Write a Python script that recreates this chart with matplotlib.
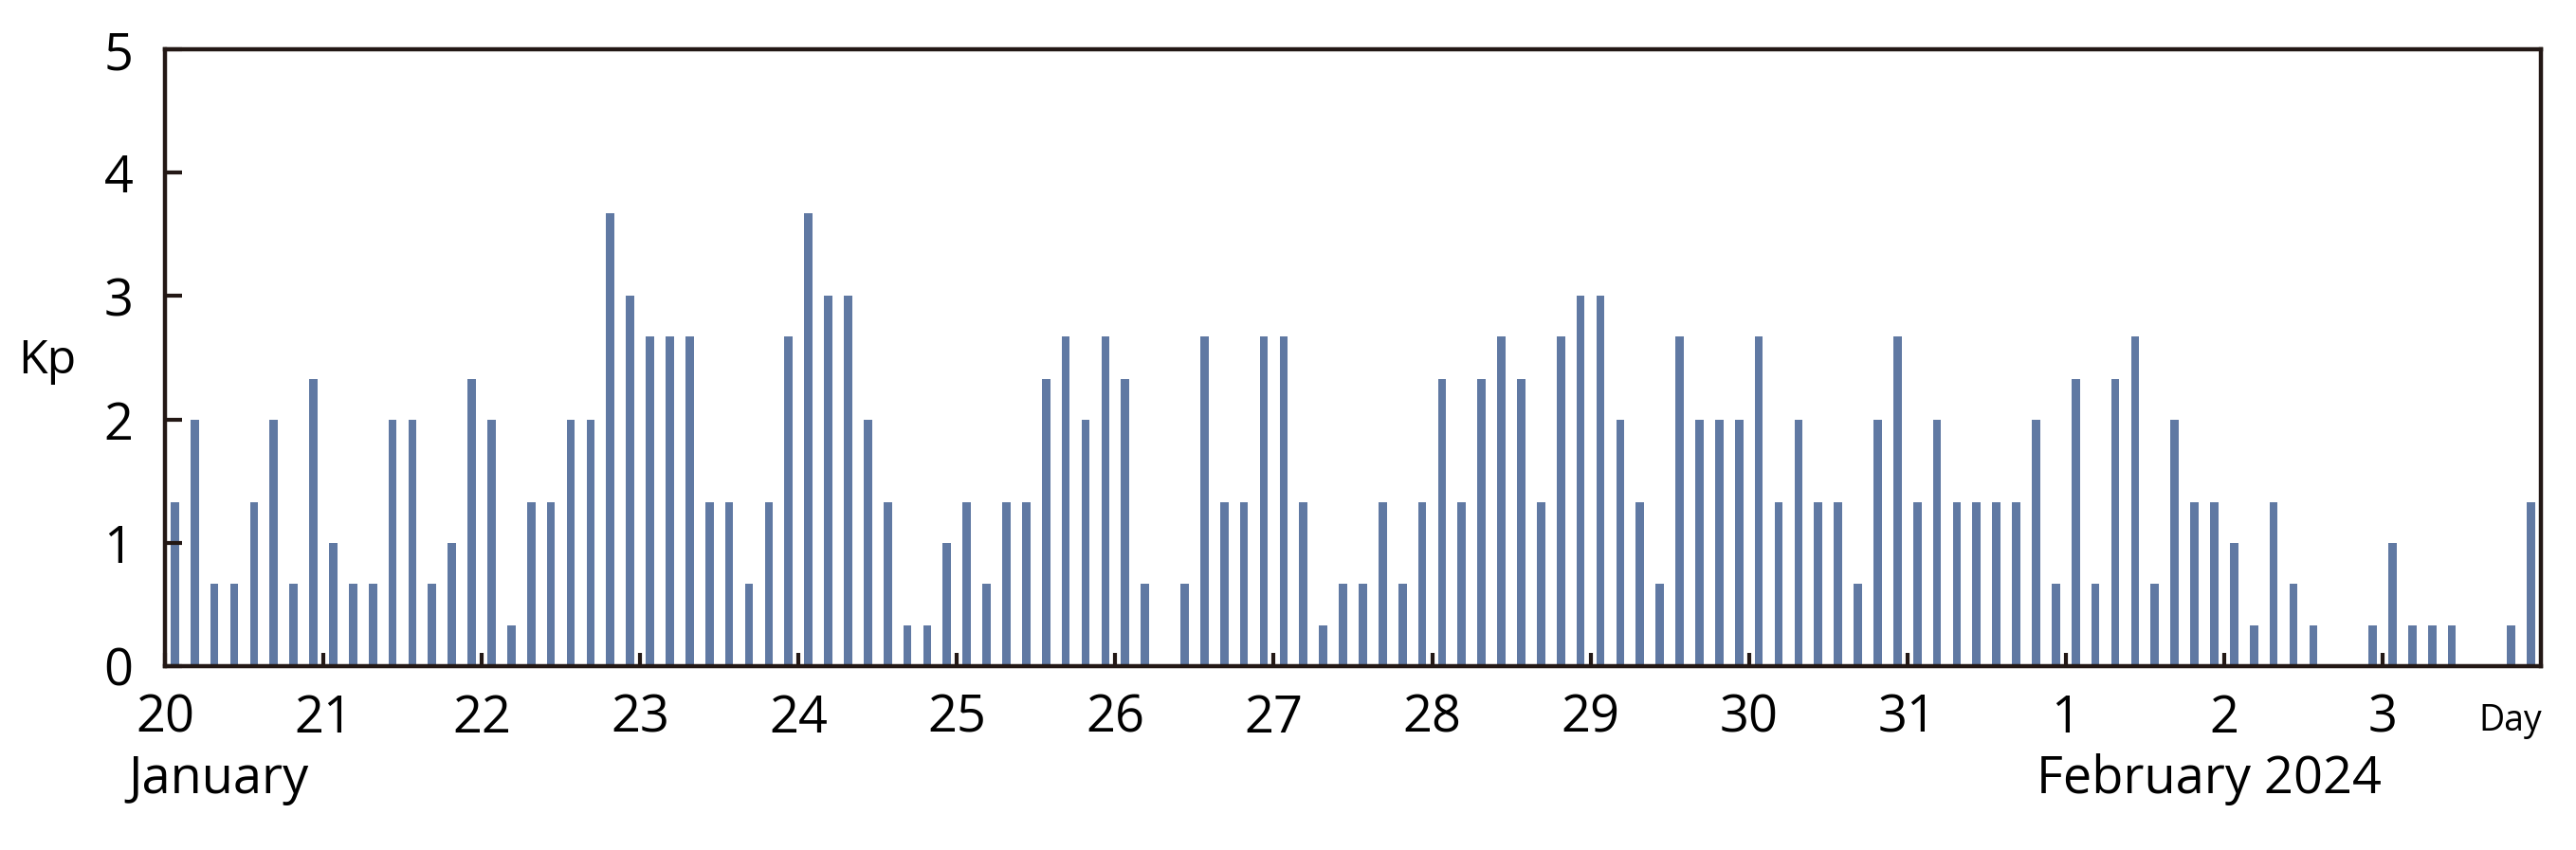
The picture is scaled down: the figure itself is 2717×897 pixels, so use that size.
import numpy as np
import matplotlib
matplotlib.use("Agg")
import matplotlib.pyplot as plt

# 3-hourly Kp values, 8 per day, 20 Jan - 3 Feb 2024
days = ["20", "21", "22", "23", "24", "25", "26", "27", "28", "29",
        "30", "31", "1", "2", "3"]
kp_jan20 = [1.33, 2, 0.67, 0.67, 1.33, 2, 0.67, 2.33]
kp_jan21 = [1, 0.67, 0.67, 2, 2, 0.67, 1, 2.33]
kp_jan22 = [2, 0.33, 1.33, 1.33, 2, 2, 3.67, 3]
kp_jan23 = [2.67, 2.67, 2.67, 1.33, 1.33, 0.67, 1.33, 2.67]
kp_jan24 = [3.67, 3, 3, 2, 1.33, 0.33, 0.33, 1]
kp_jan25 = [1.33, 0.67, 1.33, 1.33, 2.33, 2.67, 2, 2.67]
kp_jan26 = [2.33, 0.67, 0, 0.67, 2.67, 1.33, 1.33, 2.67]
kp_jan27 = [2.67, 1.33, 0.33, 0.67, 0.67, 1.33, 0.67, 1.33]
kp_jan28 = [2.33, 1.33, 2.33, 2.67, 2.33, 1.33, 2.67, 3]
kp_jan29 = [3, 2, 1.33, 0.67, 2.67, 2, 2, 2]
kp_jan30 = [2.67, 1.33, 2, 1.33, 1.33, 0.67, 2, 2.67]
kp_jan31 = [1.33, 2, 1.33, 1.33, 1.33, 1.33, 2, 0.67]
kp_feb01 = [2.33, 0.67, 2.33, 2.67, 0.67, 2, 1.33, 1.33]
kp_feb02 = [1, 0.33, 1.33, 0.67, 0.33, 0, 0, 0.33]
kp_feb03 = [1, 0.33, 0.33, 0.33, 0, 0, 0.33, 1.33]

kp = np.concatenate([kp_jan20, kp_jan21, kp_jan22, kp_jan23, kp_jan24,
                     kp_jan25, kp_jan26, kp_jan27, kp_jan28, kp_jan29,
                     kp_jan30, kp_jan31, kp_feb01, kp_feb02, kp_feb03])
x = (np.arange(len(kp)) + 0.5) / 8.0

plt.rcParams['font.family'] = ['Open Sans', 'DejaVu Sans']

fig = plt.figure(figsize=(27.17, 8.97), dpi=100)
ax = fig.add_axes([0.064, 0.2163, 0.9224, 0.7257])

ax.bar(x, kp, width=0.052, color="#6079a3", align="center")

ax.set_xlim(0, 15)
ax.set_ylim(0, 5)
ax.set_xticks(np.arange(15))
ax.set_xticklabels(days)
ax.set_yticks(range(6))

for s in ax.spines.values():
    s.set_linewidth(3.2)
    s.set_color("#231815")

ax.tick_params(axis="both", direction="in", width=3, color="#231815",
               labelsize=39)
ax.tick_params(axis="y", length=13, pad=24)
ax.tick_params(axis="x", length=10, pad=20)

ax.text(-0.0495, 0.495, "Kp", transform=ax.transAxes, fontsize=36,
        ha="center", va="center")
ax.text(0.987, -0.06, "Day", transform=ax.transAxes, fontsize=27,
        ha="center", va="top")

fig.text(0.0497, 0.0825, "January", fontsize=39, ha="left", va="center")
fig.text(0.8576, 0.0825, "February 2024", fontsize=39, ha="center", va="center")

fig.savefig("out.png", dpi=100)
